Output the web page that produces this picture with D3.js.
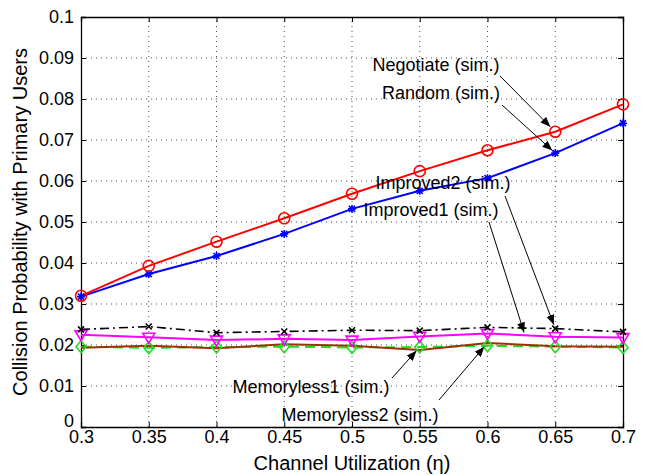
<!DOCTYPE html>
<html><head><meta charset="utf-8">
<script src="https://cdn.jsdelivr.net/npm/d3@7"></script>
<style>body{margin:0;background:#fff}svg{display:block}text{font-family:"Liberation Sans",Arial,sans-serif}</style>
</head><body>
<script>
const xVals = [0.3,0.35,0.4,0.45,0.5,0.55,0.6,0.65,0.7];
const xTicks = [0.3,0.35,0.4,0.45,0.5,0.55,0.6,0.65,0.7];
const yTicks = [0,0.01,0.02,0.03,0.04,0.05,0.06,0.07,0.08,0.09,0.1];
const negotiate = [0.0320,0.0393,0.0452,0.0509,0.0569,0.0624,0.0675,0.0720,0.0787];
const random = [0.0318,0.0373,0.0417,0.0471,0.0532,0.0576,0.0607,0.0668,0.0741];
const improved2 = [0.0238,0.0245,0.0230,0.0233,0.0236,0.0235,0.0243,0.0240,0.0232];
const improved1 = [0.0225,0.0219,0.0212,0.0215,0.0212,0.0221,0.0228,0.0220,0.0218];
const memoryless1 = [0.0196,0.0193,0.0195,0.0196,0.0194,0.0195,0.0198,0.0196,0.0194];
const memoryless2 = [0.0193,0.0198,0.0192,0.0202,0.0198,0.0188,0.0205,0.0197,0.0196];

const W=645,H=475, m={l:81,r:22,t:17,b:48};
const svg=d3.select("body").append("svg").attr("width",W).attr("height",H);
const x=d3.scaleLinear().domain([0.3,0.7]).range([m.l,W-m.r]);
const y=d3.scaleLinear().domain([0,0.1]).range([H-m.b,m.t]);
const x0=m.l,x1=W-m.r,y0=H-m.b,y1=m.t;
const FONT='"Liberation Sans",Arial,sans-serif';

// grid
const g=svg.append("g");
xTicks.slice(1,-1).forEach(t=>g.append("line").attr("x1",x(t)).attr("x2",x(t)).attr("y1",y0).attr("y2",y1).attr("stroke","#000").attr("stroke-width",0.7).attr("stroke-dasharray","1,4"));
yTicks.slice(1,-1).forEach(t=>g.append("line").attr("x1",x0).attr("x2",x1).attr("y1",y(t)).attr("y2",y(t)).attr("stroke","#000").attr("stroke-width",0.7).attr("stroke-dasharray","1,4"));

// axes
const fs=18;
const xa=svg.append("g").attr("transform",`translate(0,${y0})`).call(d3.axisBottom(x).tickValues(xTicks).tickSize(-5).tickPadding(3).tickFormat(d=>String(+d.toFixed(2))));
const xt=svg.append("g").attr("transform",`translate(0,${y1})`).call(d3.axisTop(x).tickValues(xTicks).tickSize(-5).tickFormat(""));
const ya=svg.append("g").attr("transform",`translate(${x0},0)`).call(d3.axisLeft(y).tickValues(yTicks).tickSize(-5).tickPadding(7).tickFormat(d=>String(+d.toFixed(2))));
const yr=svg.append("g").attr("transform",`translate(${x1},0)`).call(d3.axisRight(y).tickValues(yTicks).tickSize(-5).tickFormat(""));
[xa,xt,ya,yr].forEach(a=>{a.select(".domain").attr("stroke","#000").attr("stroke-width",1.3);a.selectAll(".tick line").attr("stroke","#000");a.selectAll("text").attr("font-size",fs).attr("fill","#000").style("font-family",FONT);});
// lift the "0" label slightly so it clears the "0.3" label below it
ya.selectAll(".tick").filter(d=>d===0).select("text").attr("dy","-0.05em");

svg.append("text").attr("x",(x0+x1)/2).attr("y",H-5).attr("text-anchor","middle").attr("font-size",20).text("Channel Utilization (η)");
svg.append("text").attr("transform",`translate(${27},${(y0+y1)/2}) rotate(-90)`).attr("text-anchor","middle").attr("font-size",20).text("Collision Probability with Primary Users");

const line=d3.line().x((d,i)=>x(xVals[i])).y(d=>y(d));
function series(data,color,dash,width){svg.append("path").datum(data).attr("d",line).attr("fill","none").attr("stroke",color).attr("stroke-width",width||2).attr("stroke-dasharray",dash||null);}
series(memoryless1,"#22dd22","10,6",2);
series(memoryless2,"#993300",null,2);
series(improved1,"#ff00ff",null,2);
series(improved2,"#000","9,4,2,4",1.6);
series(random,"#0000ff",null,2);
series(negotiate,"#ff0000",null,2);

// markers
function marks(data,fn){data.forEach((d,i)=>fn(svg.append("g").attr("transform",`translate(${x(xVals[i])},${y(d)})`)));}
marks(memoryless1,g2=>g2.append("path").attr("d","M0,-6L5,0L0,6L-5,0Z").attr("fill","none").attr("stroke","#22dd22").attr("stroke-width",1.6));
marks(improved1,g2=>g2.append("path").attr("d","M-6,-4L6,-4L0,6Z").attr("fill","none").attr("stroke","#ff00ff").attr("stroke-width",1.6));
marks(improved2,g2=>g2.append("path").attr("d","M-3,-3L3,3M-3,3L3,-3").attr("stroke","#000").attr("stroke-width",1.6));
marks(random,g2=>g2.append("path").attr("d","M-4,0L4,0M0,-4L0,4M-3,-3L3,3M-3,3L3,-3").attr("stroke","#0000ff").attr("stroke-width",1.6));
marks(negotiate,g2=>g2.append("circle").attr("r",5.5).attr("fill","none").attr("stroke","#ff0000").attr("stroke-width",1.6));

// annotations
const defs=svg.append("defs");
defs.append("marker").attr("id","ah").attr("viewBox","0 0 10 10").attr("refX",10).attr("refY",5).attr("markerWidth",10).attr("markerHeight",10).attr("markerUnits","userSpaceOnUse").attr("orient","auto").append("path").attr("d","M0,1L10,5L0,9Z").attr("fill","#000");
const ann=[
 {t:"Negotiate (sim.)",tx:436,ty:71,ax:500,ay:76,bi:7,s:negotiate,off:7},
 {t:"Random (sim.)",tx:441,ty:99,ax:502,ay:105,bi:7,s:random,off:4},
 {t:"Improved2 (sim.)",tx:443,ty:189,ax:505,ay:196,bi:7,s:improved2,off:4},
 {t:"Improved1 (sim.)",tx:431,ty:216,ax:489,ay:222,bi:null,px:525,off:3},
 {t:"Memoryless1 (sim.)",tx:311,ty:393,ax:392,ay:378,bi:5,s:memoryless1,off:5},
 {t:"Memoryless2 (sim.)",tx:360,ty:421,ax:439,ay:400,bi:6,s:memoryless2,off:5}
];
ann.forEach(a=>{
  svg.append("text").attr("x",a.tx).attr("y",a.ty).attr("text-anchor","middle").attr("font-size",18).text(a.t);
  let bx,by;
  if(a.bi!==null){bx=x(xVals[a.bi]);by=y(a.s[a.bi]);}else{bx=a.px;const f=(x.invert(a.px)-xVals[6])/(xVals[7]-xVals[6]);by=y(improved1[6]+(improved1[7]-improved1[6])*f);}
  const dx=bx-a.ax,dy=by-a.ay,L=Math.hypot(dx,dy);
  svg.append("line").attr("x1",a.ax).attr("y1",a.ay).attr("x2",bx-dx/L*a.off).attr("y2",by-dy/L*a.off).attr("stroke","#000").attr("stroke-width",1).attr("marker-end","url(#ah)");
});
</script>
</body></html>
